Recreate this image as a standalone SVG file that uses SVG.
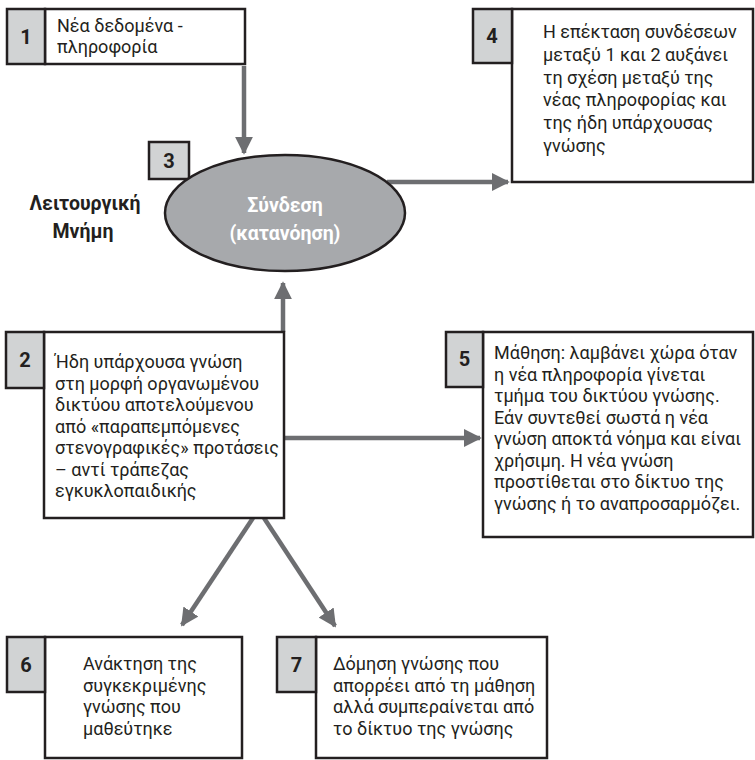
<svg xmlns="http://www.w3.org/2000/svg" width="755" height="760" viewBox="0 0 755 760">
<defs>
<marker id="ah" viewBox="0 0 10 10" refX="9" refY="5" markerWidth="4" markerHeight="4" markerUnits="strokeWidth" orient="auto">
<path d="M0,0 L10,5 L0,10 Z" fill="#6d6e71"/>
</marker>
<style>
.box{fill:#ffffff;stroke:#231f20;stroke-width:2.5}
.num{fill:#d1d3d4;stroke:#231f20;stroke-width:2.5}
.nt{font-family:Roboto,"Liberation Sans",sans-serif;font-weight:bold;font-size:20px;fill:#231f20;text-anchor:middle}
.tx{font-family:Roboto,"Liberation Sans",sans-serif;font-size:18px;fill:#231f20}
.bt{font-family:Roboto,"Liberation Sans",sans-serif;font-weight:bold;font-size:19.5px;fill:#231f20;text-anchor:middle}
.wt{font-family:Roboto,"Liberation Sans",sans-serif;font-weight:bold;font-size:19.5px;fill:#ffffff;text-anchor:middle}
.con{fill:none;stroke:#6d6e71;stroke-width:4.5;marker-end:url(#ah)}
</style>
</defs>
<rect width="755" height="760" fill="#ffffff"/>

<g id="connectors">
<line class="con" x1="244" y1="66" x2="244" y2="153"/>
<line class="con" x1="387" y1="182" x2="508" y2="182"/>
<line class="con" x1="283" y1="332" x2="283" y2="283"/>
<line class="con" x1="284" y1="438" x2="480" y2="438"/>
<line class="con" x1="253" y1="518" x2="182" y2="625"/>
<line class="con" x1="264" y1="518" x2="335" y2="626"/>
</g>

<g id="node1">
<rect class="box" x="45" y="9" width="200" height="55"/>
<rect class="num" x="7" y="9" width="38" height="55"/>
<text class="nt" x="26" y="44">1</text>
<text class="tx" x="57" y="32">Νέα δεδομένα -</text>
<text class="tx" x="57" y="53">πληροφορία</text>
</g>

<g id="node3">
<rect class="num" x="149" y="142" width="40" height="37"/>
<text class="nt" x="169" y="168">3</text>
<ellipse cx="285" cy="213" rx="120" ry="58" fill="#a7a9ac" stroke="#231f20" stroke-width="2.5"/>
<text class="wt" x="285" y="212">Σύνδεση</text>
<text class="wt" x="285" y="240">(κατανόηση)</text>
</g>

<g id="memory-label">
<text class="bt" x="85" y="210">Λειτουργική</text>
<text class="bt" x="83" y="238">Μνήμη</text>
</g>

<g id="node4">
<rect class="box" x="512" y="9" width="241" height="173"/>
<rect class="num" x="473" y="9" width="39" height="54"/>
<text class="nt" x="492" y="43">4</text>
<text class="tx" x="543" y="38">Η επέκταση συνδέσεων</text>
<text class="tx" x="543" y="61">μεταξύ 1 και 2 αυξάνει</text>
<text class="tx" x="543" y="84">τη σχέση μεταξύ της</text>
<text class="tx" x="543" y="106">νέας πληροφορίας και</text>
<text class="tx" x="543" y="129">της ήδη υπάρχουσας</text>
<text class="tx" x="543" y="152">γνώσης</text>
</g>

<g id="node2">
<rect class="box" x="44" y="332" width="240" height="186"/>
<rect class="num" x="6" y="332" width="38" height="56"/>
<text class="nt" x="25" y="367">2</text>
<text class="tx" x="55" y="368">Ήδη υπάρχουσα γνώση</text>
<text class="tx" x="55" y="389.5">στη μορφή οργανωμένου</text>
<text class="tx" x="55" y="411">δικτύου αποτελούμενου</text>
<text class="tx" x="55" y="432.5">από «παραπεμπόμενες</text>
<text class="tx" x="55" y="454">στενογραφικές» προτάσεις</text>
<text class="tx" x="55" y="475.5">– αντί τράπεζας</text>
<text class="tx" x="55" y="497">εγκυκλοπαιδικής</text>
</g>

<g id="node5">
<rect class="box" x="483" y="332" width="270" height="205"/>
<rect class="num" x="446" y="332" width="37" height="55"/>
<text class="nt" x="464.5" y="366">5</text>
<text class="tx" x="494" y="359">Μάθηση: λαμβάνει χώρα όταν</text>
<text class="tx" x="494" y="380.5">η νέα πληροφορία γίνεται</text>
<text class="tx" x="494" y="402">τμήμα του δικτύου γνώσης.</text>
<text class="tx" x="494" y="423.5">Εάν συντεθεί σωστά η νέα</text>
<text class="tx" x="494" y="445">γνώση αποκτά νόημα και είναι</text>
<text class="tx" x="494" y="466.5">χρήσιμη. Η νέα γνώση</text>
<text class="tx" x="494" y="488">προστίθεται στο δίκτυο της</text>
<text class="tx" x="494" y="509.5">γνώσης ή το αναπροσαρμόζει.</text>
</g>

<g id="node6">
<rect class="box" x="45" y="637" width="197" height="121"/>
<rect class="num" x="7" y="637" width="38" height="55"/>
<text class="nt" x="26" y="672">6</text>
<text class="tx" x="83" y="670">Ανάκτηση της</text>
<text class="tx" x="83" y="691.5">συγκεκριμένης</text>
<text class="tx" x="83" y="713">γνώσης που</text>
<text class="tx" x="83" y="734.5">μαθεύτηκε</text>
</g>

<g id="node7">
<rect class="box" x="316" y="637" width="231" height="121"/>
<rect class="num" x="277" y="637" width="39" height="55"/>
<text class="nt" x="296.5" y="672">7</text>
<text class="tx" x="333" y="670">Δόμηση γνώσης που</text>
<text class="tx" x="333" y="691.5">απορρέει από τη μάθηση</text>
<text class="tx" x="333" y="713">αλλά συμπεραίνεται από</text>
<text class="tx" x="333" y="734.5">το δίκτυο της γνώσης</text>
</g>
</svg>
